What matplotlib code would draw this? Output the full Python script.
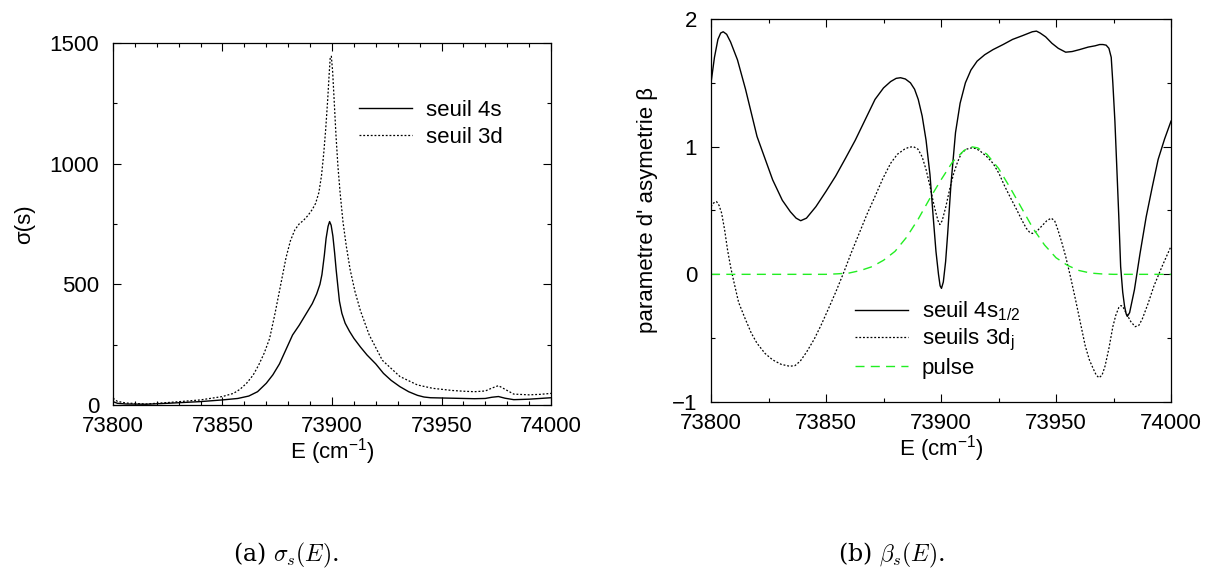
import matplotlib
matplotlib.use("Agg")
import matplotlib.pyplot as plt
from matplotlib.ticker import MultipleLocator

plt.rcParams['font.family'] = ['Liberation Sans', 'DejaVu Sans']
plt.rcParams['mathtext.fontset'] = 'custom'
plt.rcParams['mathtext.rm'] = 'Liberation Sans'
plt.rcParams['mathtext.it'] = 'Liberation Sans'

# --- panel (a): sigma_s(E) ---
e_4s = [73800, 73802, 73806, 73815, 73825, 73840, 73850, 73857, 73862, 73866, 73870,
        73873, 73876, 73879, 73882, 73885, 73888, 73891, 73893, 73894.5, 73895.4,
        73896.5, 73897.3, 73898.2, 73898.9, 73899.6, 73900.4, 73901.2, 73901.9,
        73902.7, 73903.4, 73904.5, 73906, 73908, 73910, 73913, 73916, 73920,
        73923.5, 73927, 73931, 73935, 73939, 73942, 73945, 73955, 73960, 73965,
        73970, 73973, 73976, 73979, 73983, 73990, 73995, 74000]
sig_4s = [14, 7, 4, 3, 7, 14, 21, 27, 37, 55, 90,
          125, 170, 230, 290, 330, 375, 420, 460, 500, 540,
          620, 690, 740, 760, 745, 700, 630, 560,
          490, 430, 380, 339, 305, 276, 240, 207, 170,
          131, 102, 76, 55, 40, 33, 30, 28, 27, 26,
          27, 32, 35, 28, 22, 24, 27, 30]

e_3d = [73800, 73802, 73806, 73815, 73825, 73840, 73850, 73855, 73858, 73861, 73864,
        73866.5, 73869, 73871.5, 73874, 73876.5, 73879, 73881, 73883, 73885, 73887,
        73889, 73891, 73892.5, 73894, 73895.2, 73896.2, 73897.1, 73898, 73898.7,
        73899.2, 73899.7, 73900.3, 73901, 73901.8, 73902.7, 73903.7, 73905,
        73906.5, 73908.3, 73910.5, 73913, 73917, 73923, 73931, 73939, 73946,
        73955, 73960, 73965, 73970, 73973, 73976, 73979, 73983, 73990, 73995, 74000]
sig_3d = [28, 15, 8, 4, 10, 21, 35, 48, 65, 90, 124,
          165, 214, 275, 380, 495, 610, 680, 725, 750, 765,
          785, 810, 835, 880, 950, 1040, 1140, 1260, 1370,
          1440, 1445, 1380, 1260, 1120, 990, 880, 760,
          660, 560, 470, 390, 290, 185, 118, 83, 69,
          60, 57, 55, 58, 70, 80, 65, 45, 42, 44, 48]

# --- panel (b): beta_s(E) ---
e_b4s = [73800, 73801.5, 73803, 73804.2, 73805.3, 73806.8, 73808.5, 73811.5, 73815,
         73820, 73826.8, 73831, 73834.5, 73837, 73839, 73841.5, 73845.6, 73850,
         73854.2, 73858.5, 73862.7, 73867, 73871.3, 73875, 73878.1, 73880.5, 73882.4,
         73884.5, 73886.7, 73888.5, 73890.1, 73891.8, 73893.5, 73895.2, 73896.6,
         73897.8, 73898.9, 73899.6, 73900.2, 73901, 73902, 73902.9, 73904.3, 73906.3,
         73908.3, 73910.6, 73913, 73915.7, 73919, 73922.6, 73927, 73931.1, 73935.5,
         73939.7, 73941.5, 73943.1, 73945.5, 73948.2, 73951, 73954.2, 73957, 73960.2,
         73964, 73967, 73969, 73970.4, 73971.8, 73973, 73974, 73974.7, 73975.6,
         73976.4, 73977.3, 73978.1, 73979, 73979.8, 73980.5, 73981, 73982, 73984.1,
         73986.5, 73989.2, 73991.8, 73994.4, 73997.2, 74000]
beta_4s = [1.50, 1.70, 1.84, 1.89, 1.90, 1.88, 1.82, 1.68, 1.45,
           1.08, 0.74, 0.58, 0.49, 0.44, 0.42, 0.44, 0.53, 0.65,
           0.77, 0.91, 1.05, 1.21, 1.37, 1.46, 1.51, 1.535, 1.54,
           1.53, 1.50, 1.45, 1.37, 1.24, 1.05, 0.78, 0.45,
           0.18, 0.00, -0.09, -0.11, -0.06, 0.10, 0.32, 0.70, 1.11,
           1.34, 1.50, 1.60, 1.67, 1.72, 1.76, 1.80, 1.84, 1.87,
           1.90, 1.905, 1.89, 1.86, 1.81, 1.77, 1.74, 1.745, 1.76,
           1.78, 1.79, 1.80, 1.80, 1.795, 1.77, 1.70, 1.50, 1.20,
           0.85, 0.45, 0.06, -0.14, -0.25, -0.31, -0.33, -0.30, -0.12,
           0.16, 0.45, 0.68, 0.90, 1.06, 1.20]

e_b3d = [73800, 73801.2, 73802.4, 73803.5, 73804.6, 73805.9, 73807.2, 73808.5, 73809.7,
         73812, 73814.9, 73817.5, 73820, 73823.5, 73826.8, 73830.5, 73834.2, 73836.5,
         73838.8, 73841.5, 73844.8, 73847.8, 73850.8, 73854.2, 73857.6, 73861, 73864.4,
         73867.8, 73871.3, 73874.7, 73878.1, 73881, 73884.1, 73886, 73888, 73890,
         73891.8, 73893.5, 73895.2, 73896.6, 73897.8, 73898.7, 73899.5, 73900.5,
         73902.1, 73903.8, 73905.5, 73907.2, 73908.9, 73911, 73913.2, 73915.3, 73917.4,
         73920, 73922.6, 73925.2, 73927.7, 73930.2, 73932.8, 73935, 73937.1, 73938.5,
         73939.7, 73941.8, 73943.9, 73946, 73947.9, 73949.4, 73950.8, 73952.5, 73954.2,
         73956.3, 73958.5, 73960.6, 73962.7, 73964.5, 73966.2, 73967.5, 73968.7,
         73970, 73971.3, 73973, 73974.7, 73976, 73977.3, 73978.2, 73979, 73979.8,
         73980.7, 73982.5, 73984.4, 73986, 73987.5, 73990, 73992.6, 73996.3, 74000]
beta_3d = [0.53, 0.56, 0.57, 0.54, 0.48, 0.35, 0.19, 0.06, -0.04,
           -0.22, -0.35, -0.46, -0.54, -0.62, -0.67, -0.705, -0.72, -0.715,
           -0.68, -0.61, -0.51, -0.40, -0.28, -0.14, 0.01, 0.17, 0.32,
           0.47, 0.61, 0.75, 0.87, 0.94, 0.98, 0.995, 1.00, 0.98,
           0.92, 0.82, 0.69, 0.57, 0.48, 0.42, 0.39, 0.42,
           0.53, 0.67, 0.79, 0.88, 0.95, 0.98, 0.99, 0.985, 0.96,
           0.92, 0.87, 0.79, 0.69, 0.60, 0.51, 0.43, 0.36, 0.33,
           0.32, 0.34, 0.38, 0.42, 0.44, 0.42, 0.35, 0.25, 0.14,
           -0.02, -0.20, -0.38, -0.56, -0.67, -0.74, -0.79, -0.81,
           -0.79, -0.72, -0.58, -0.41, -0.32, -0.26, -0.245, -0.25, -0.28,
           -0.31, -0.37, -0.41, -0.40, -0.35, -0.23, -0.09, 0.07, 0.22]

e_pulse = [73800, 73850, 73855, 73860, 73865, 73870, 73875, 73880, 73885, 73890, 73895,
           73900, 73905, 73910, 73913, 73916, 73920, 73925, 73930, 73935, 73940, 73945,
           73950, 73955, 73960, 73965, 73970, 73975, 74000]
pulse = [0, 0, 0.004, 0.01, 0.03, 0.06, 0.11, 0.18, 0.29, 0.43, 0.59,
         0.74, 0.88, 0.97, 1.0, 0.99, 0.94, 0.83, 0.68, 0.52, 0.36, 0.23,
         0.13, 0.07, 0.03, 0.01, 0.003, 0, 0]

dotted = (0, (1.5, 1.5))
dashed = (0, (6.5, 4.5))
fs = 16

fig = plt.figure(figsize=(12.15, 5.72), dpi=100)
ax1 = fig.add_axes([0.0930, 0.2920, 0.3605, 0.6329])
ax2 = fig.add_axes([0.5852, 0.2972, 0.3786, 0.6696])

ax1.plot(e_4s, sig_4s, color='black', lw=1.0, label='seuil 4s')
ax1.plot(e_3d, sig_3d, color='black', lw=0.9, ls=dotted, label='seuil 3d')
ax1.set_xlim(73800, 74000)
ax1.set_ylim(0, 1500)
ax1.xaxis.set_major_locator(MultipleLocator(50))
ax1.xaxis.set_minor_locator(MultipleLocator(10))
ax1.yaxis.set_major_locator(MultipleLocator(500))
ax1.yaxis.set_minor_locator(MultipleLocator(250))
ax1.set_xlabel('E (cm$^{-1}$)', fontsize=fs, labelpad=-1)
ax1.set_ylabel('σ(s)', fontsize=fs, labelpad=10)
ax1.legend(loc='upper left', bbox_to_anchor=(0.562, 0.842), frameon=False, fontsize=fs,
           handlelength=2.4, handletextpad=0.6, borderpad=0, borderaxespad=0,
           labelspacing=0.25)

ax2.plot(e_b4s, beta_4s, color='black', lw=1.0, label='seuil 4s$_\\mathregular{1/2}$')
ax2.plot(e_b3d, beta_3d, color='black', lw=0.9, ls=dotted, label='seuils 3d$_\\mathregular{j}$')
ax2.plot(e_pulse, pulse, color='#22ee22', lw=1.0, ls=dashed, label='pulse')
ax2.set_xlim(73800, 74000)
ax2.set_ylim(-1, 2)
ax2.xaxis.set_major_locator(MultipleLocator(50))
ax2.xaxis.set_minor_locator(MultipleLocator(25))
ax2.yaxis.set_major_locator(MultipleLocator(1))
ax2.yaxis.set_minor_locator(MultipleLocator(0.5))
ax2.set_xlabel('E (cm$^{-1}$)', fontsize=fs, labelpad=-1)
ax2.set_ylabel("parametre d' asymetrie β", fontsize=fs, labelpad=10)
ax2.legend(loc='upper left', bbox_to_anchor=(0.313, 0.268), frameon=False, fontsize=fs,
           handlelength=2.4, handletextpad=0.6, borderpad=0, borderaxespad=0,
           labelspacing=0.2)

for ax in (ax1, ax2):
    ax.tick_params(which='both', direction='in', top=True, right=True, labelsize=fs)
    ax.tick_params(which='major', length=5.5, width=0.8)
    ax.tick_params(which='minor', length=3, width=0.8)
    ax.tick_params(axis='x', which='major', pad=8)
    ax.tick_params(axis='y', which='major', pad=10)
    for sp in ax.spines.values():
        sp.set_linewidth(0.9)

fig.text(286 / 1215, 1 - 555 / 572, r'(a) $\sigma_s(E)$.', ha='center', va='center',
         fontsize=17, family='DejaVu Serif', math_fontfamily='cm')
fig.text(891 / 1215, 1 - 555 / 572, r'(b) $\beta_s(E)$.', ha='center', va='center',
         fontsize=17, family='DejaVu Serif', math_fontfamily='cm')

fig.savefig('out.png', dpi=100)
